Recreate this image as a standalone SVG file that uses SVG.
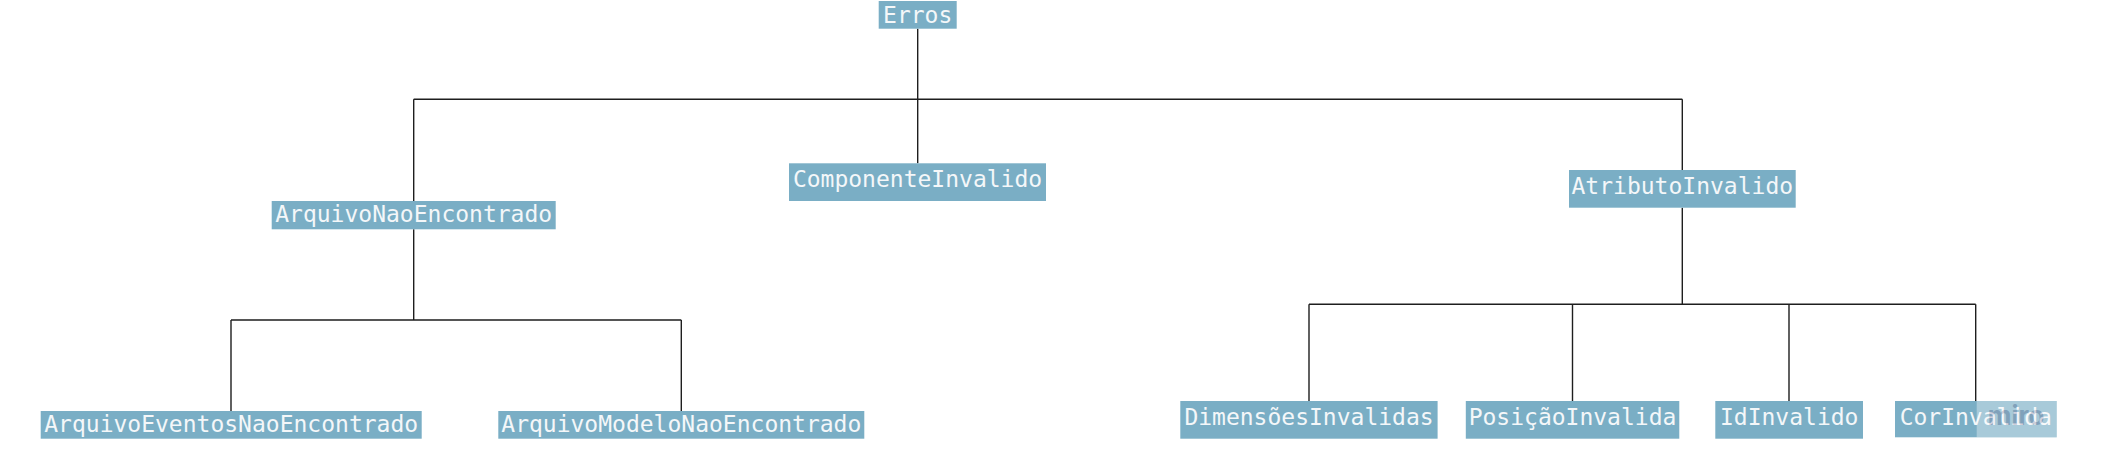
<svg xmlns="http://www.w3.org/2000/svg" width="2108" height="474" viewBox="0 0 2108 474">
<style>
.box{fill:#7aaec5;}
.lbl{font-family:"DejaVu Sans Mono","Liberation Mono",monospace;font-size:23px;fill:#f4f7f9;text-anchor:middle;}
.con{stroke:#1e1e1e;stroke-width:1.4;fill:none;}
</style>
<rect width="2108" height="474" fill="#ffffff"/>
<g id="connectors">
<path class="con" d="M917.7,28.7 V163.3"/>
<path class="con" d="M413.7,99.3 H1682.3"/>
<path class="con" d="M413.7,99.3 V201 M413.7,229.3 V320"/>
<path class="con" d="M1682.3,99.3 V170 M1682.3,207.7 V304.3"/>
<path class="con" d="M231,320 H681.3 M231,320 V411 M681.3,320 V411"/>
<path class="con" d="M1309,304.3 H1975.7 M1309,304.3 V401 M1572.5,304.3 V401 M1789,304.3 V401 M1975.7,304.3 V401"/>
</g>
<g id="n-erros"><rect class="box" x="878.7" y="1" width="78" height="27.7"/><text class="lbl" x="917.7" y="22.5">Erros</text></g>
<g id="n-componente"><rect class="box" x="789" y="163.3" width="257" height="37.7"/><text class="lbl" x="917.5" y="187">ComponenteInvalido</text></g>
<g id="n-arquivo"><rect class="box" x="271.7" y="201" width="284" height="28.3"/><text class="lbl" x="413.7" y="222">ArquivoNaoEncontrado</text></g>
<g id="n-atributo"><rect class="box" x="1569" y="170" width="226.7" height="37.7"/><text class="lbl" x="1682.3" y="193.5">AtributoInvalido</text></g>
<g id="n-eventos"><rect class="box" x="40.7" y="411" width="381" height="27.7"/><text class="lbl" x="231.2" y="432">ArquivoEventosNaoEncontrado</text></g>
<g id="n-modelo"><rect class="box" x="498.3" y="411" width="366" height="27.7"/><text class="lbl" x="681.3" y="432">ArquivoModeloNaoEncontrado</text></g>
<g id="n-dimensoes"><rect class="box" x="1180.3" y="401" width="257.3" height="37.7"/><text class="lbl" x="1309" y="425">DimensõesInvalidas</text></g>
<g id="n-posicao"><rect class="box" x="1465.8" y="401" width="213.5" height="37.7"/><text class="lbl" x="1572.5" y="425">PosiçãoInvalida</text></g>
<g id="n-id"><rect class="box" x="1715.3" y="401" width="147.7" height="37.7"/><text class="lbl" x="1789.2" y="425">IdInvalido</text></g>
<g id="n-cor"><rect class="box" x="1895" y="401" width="161.7" height="36.3"/><text class="lbl" x="1975.8" y="425">CorInvalida</text></g>
<g id="watermark" opacity="0.35">
<rect x="1976.7" y="401" width="80" height="36.3" fill="#ffffff"/>
<text x="2016" y="425" font-family="Inter,'DejaVu Sans',sans-serif" font-size="26" font-weight="bold" fill="#8c8aa8" text-anchor="middle">miro</text>
</g>
</svg>
